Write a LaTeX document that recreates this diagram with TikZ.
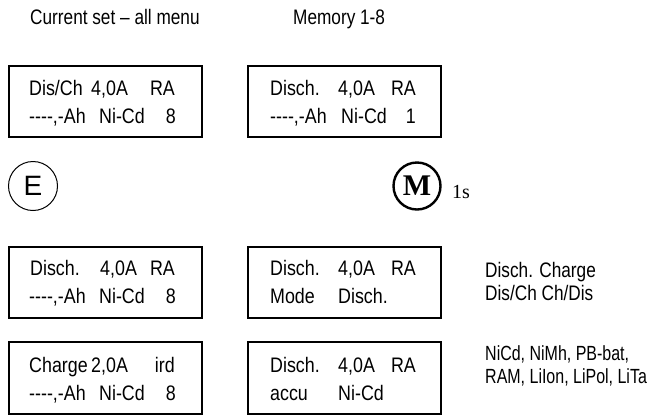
\documentclass[tikz,border=0pt]{standalone}
\usepackage{fontspec}
\setmainfont{Liberation Sans}
\newfontfamily\narrowfont{Liberation Sans}[FakeStretch=0.82, Ligatures=TeXOff]
\newfontfamily\lcdfont{Liberation Sans}[FakeStretch=0.85, Ligatures=TeXOff]
\newfontfamily\notefont{Liberation Sans}[FakeStretch=0.78, Ligatures=TeXOff]
\newfontfamily\timesfont{Liberation Serif}
\begin{document}
\begin{tikzpicture}[x=1pt,y=-1pt,
  lcd/.style={draw, line width=1.4pt, minimum width=193pt, minimum height=71pt, inner sep=0pt},
  head/.style={anchor=base west, inner sep=0pt, font=\narrowfont\fontsize{21}{25}\selectfont},
  txt/.style={anchor=base west, inner sep=0pt, font=\lcdfont\fontsize{21}{25}\selectfont},
  txtr/.style={txt, anchor=base east},
  note/.style={anchor=base west, inner sep=0pt, font=\notefont\fontsize{20.5}{24}\selectfont}]
\useasboundingbox (0,0) rectangle (666,416);

% headers
\node[head] (h1) at (30,24) {Current set – all menu};
\node[head] (h2) at (293,24) {Memory 1-8};

% box 1
\node[lcd] (b1) at (105.5,101.5) {};
\node[txt]  (b1a) at (29,95) {Dis/Ch};
\node[txt]  (b1b) at (91,95) {4,0A};
\node[txtr] (b1c) at (175,95) {RA};
\node[txt]  (b1d) at (29,123) {----,-Ah};
\node[txt]  (b1e) at (99,123) {Ni-Cd};
\node[txtr] (b1f) at (176,123) {8};

% box 2
\node[lcd] (b2) at (344.5,101.5) {};
\node[txt]  (b2a) at (270,95) {Disch.};
\node[txt]  (b2b) at (338,95) {4,0A};
\node[txtr] (b2c) at (416,95) {RA};
\node[txt]  (b2d) at (270,123) {----,-Ah};
\node[txt]  (b2e) at (341,123) {Ni-Cd};
\node[txtr] (b2f) at (416,123) {1};

% buttons
\node[circle, draw, line width=1pt, minimum size=49pt, inner sep=0pt,
      font=\fontsize{28}{30}\selectfont] (E) at (33,186) {E};
\node[circle, draw, line width=2.4pt, minimum size=47pt, inner sep=0pt,
      font=\timesfont\bfseries\fontsize{30}{32}\selectfont] (M) at (417,186) {M};
\node[anchor=base west, inner sep=0pt, font=\timesfont\fontsize{20}{22}\selectfont] (t1s) at (452,198) {1s};

% box 3
\node[lcd] (b3) at (105.5,282.5) {};
\node[txt]  (b3a) at (30,275) {Disch.};
\node[txt]  (b3b) at (100,275) {4,0A};
\node[txtr] (b3c) at (175,275) {RA};
\node[txt]  (b3d) at (29,303) {----,-Ah};
\node[txt]  (b3e) at (99,303) {Ni-Cd};
\node[txtr] (b3f) at (176,303) {8};

% box 4
\node[lcd] (b4) at (344.5,282.5) {};
\node[txt]  (b4a) at (270,275) {Disch.};
\node[txt]  (b4b) at (338,275) {4,0A};
\node[txtr] (b4c) at (416,275) {RA};
\node[txt]  (b4d) at (270,303) {Mode};
\node[txt]  (b4e) at (338,303) {Disch.};

% box 5
\node[lcd, minimum height=72pt] (b5) at (105.5,378) {};
\node[txt]  (b5a) at (29,372) {Charge};
\node[txt]  (b5b) at (91,372) {2,0A};
\node[txtr] (b5c) at (175,372) {ird};
\node[txt]  (b5d) at (29,400) {----,-Ah};
\node[txt]  (b5e) at (99,400) {Ni-Cd};
\node[txtr] (b5f) at (176,400) {8};

% box 6
\node[lcd, minimum height=72pt] (b6) at (344.5,378) {};
\node[txt]  (b6a) at (270,372) {Disch.};
\node[txt]  (b6b) at (338,372) {4,0A};
\node[txtr] (b6c) at (416,372) {RA};
\node[txt]  (b6d) at (270,400) {accu};
\node[txt]  (b6e) at (338,400) {Ni-Cd};

% notes
\node[head] (n1) at (485,277) {Disch. Charge};
\node[head] (n2) at (485,300) {Dis/Ch Ch/Dis};
\node[note] (n3) at (485,360) {NiCd, NiMh, PB-bat,};
\node[note] (n4) at (485,383) {RAM, LiIon, LiPol, LiTa};
\end{tikzpicture}
\end{document}
